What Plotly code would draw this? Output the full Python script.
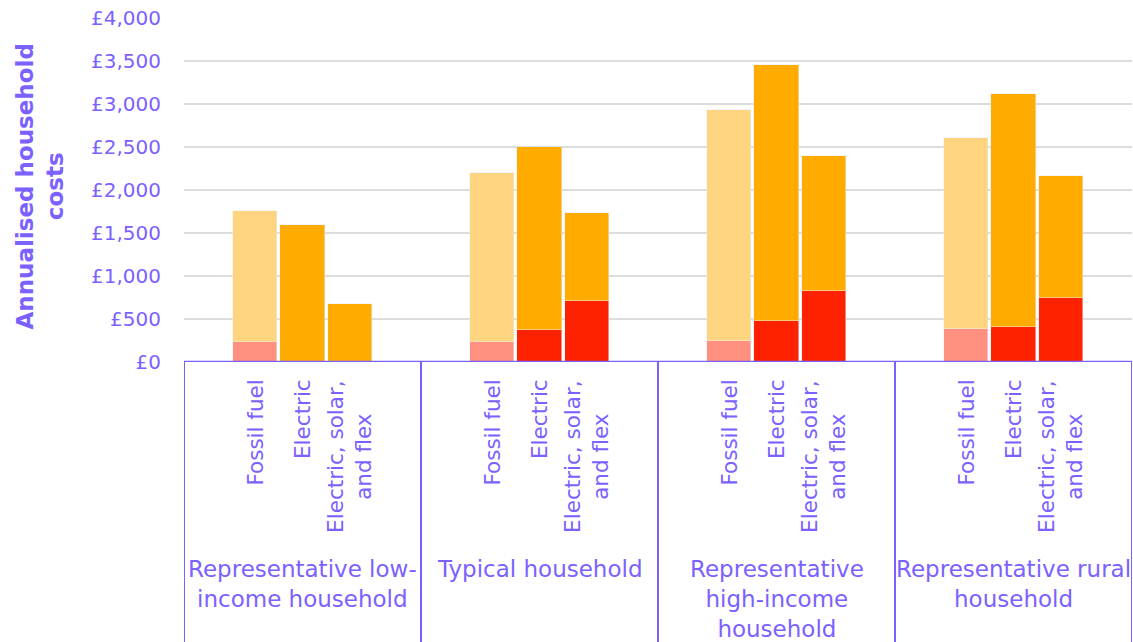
import plotly.graph_objects as go

# Household types and the heating options compared for each
groups = [
    "Representative low-<br>income household",
    "Typical household",
    "Representative<br>high-income<br>household",
    "Representative rural<br>household",
]
options = ["Fossil fuel", "Electric", "Electric, solar,<br>and flex"]

# Annualised costs (£): lower segment and upper segment of each stacked bar,
# listed per household as [fossil fuel, electric, electric+solar+flex]
lower = [
    [235, 0, 0],
    [230, 370, 715],
    [240, 475, 825],
    [380, 410, 750],
]
upper = [
    [1520, 1590, 670],
    [1970, 2130, 1020],
    [2690, 2980, 1570],
    [2225, 2710, 1415],
]

y_ticks = [0, 500, 1000, 1500, 2000, 2500, 3000, 3500, 4000]
y_tick_text = ["£0", "£500", "£1,000", "£1,500", "£2,000", "£2,500", "£3,000", "£3,500", "£4,000"]

PURPLE = "#7B61FF"
FONT = "DejaVu Sans"
SLOTS = 5  # one empty slot either side of the three bars in each household block

fossil_x, fossil_lo, fossil_hi = [], [], []
elec_x, elec_lo, elec_hi = [], [], []
for g in range(len(groups)):
    for j in range(len(options)):
        x = g * SLOTS + 1 + j
        if j == 0:
            fossil_x.append(x)
            fossil_lo.append(lower[g][j])
            fossil_hi.append(upper[g][j])
        else:
            elec_x.append(x)
            elec_lo.append(lower[g][j])
            elec_hi.append(upper[g][j])

fig = go.Figure()
bar_w = 0.93
fig.add_trace(go.Bar(x=fossil_x, y=fossil_lo, marker_color="#FF8F7E", width=bar_w, showlegend=False))
fig.add_trace(go.Bar(x=elec_x, y=elec_lo, marker_color="#FF2200", width=bar_w, showlegend=False))
fig.add_trace(go.Bar(x=fossil_x, y=fossil_hi, marker_color="#FFD47F", width=bar_w, showlegend=False))
fig.add_trace(go.Bar(x=elec_x, y=elec_hi, marker_color="#FFAB00", width=bar_w, showlegend=False))

n_slots = len(groups) * SLOTS
annotations = []
shapes = []

# Rotated option labels under each bar
for g in range(len(groups)):
    for j, name in enumerate(options):
        annotations.append(dict(
            x=g * SLOTS + 1 + j, y=-0.045, xref="x", yref="paper",
            text=name, textangle=-90, showarrow=False,
            xanchor="center", yanchor="top", align="center",
            font=dict(family=FONT, size=21.5, color=PURPLE),
        ))
    # Household label centred in its block
    annotations.append(dict(
        x=g * SLOTS + (SLOTS - 1) / 2, y=-0.558, xref="x", yref="paper",
        text=groups[g], showarrow=False, xanchor="center", yanchor="top",
        align="center", font=dict(family=FONT, size=23, color=PURPLE),
    ))

# Block dividers of the category axis
for k in range(len(groups) + 1):
    xk = k * SLOTS - 0.5
    shapes.append(dict(type="line", xref="x", yref="paper", x0=xk, x1=xk, y0=0, y1=-0.82,
                       line=dict(color=PURPLE, width=2)))
shapes.append(dict(type="line", xref="paper", yref="y", x0=0, x1=1, y0=0, y1=0,
                   line=dict(color=PURPLE, width=2.5)))

# Y-axis title
annotations.append(dict(
    x=-0.152, y=0.51, xref="paper", yref="paper",
    text="<b>Annualised household<br>costs</b>", textangle=-90, showarrow=False,
    xanchor="center", yanchor="middle", align="center",
    font=dict(family=FONT, size=23, color=PURPLE),
))

fig.update_layout(
    width=1133, height=642,
    margin=dict(l=184, r=1, t=18, b=280, pad=0),
    barmode="stack",
    bargap=0,
    plot_bgcolor="white", paper_bgcolor="white",
    xaxis=dict(range=[-0.5, n_slots - 0.5], showticklabels=False, showgrid=False,
               zeroline=False, showline=False, fixedrange=True),
    yaxis=dict(range=[0, 4000], tickvals=y_ticks, ticktext=y_tick_text,
               showgrid=True, gridcolor="#DCDCDC", gridwidth=2, zeroline=False,
               showline=False, ticklabelstandoff=22,
               tickfont=dict(family=FONT, size=20, color=PURPLE)),
    annotations=annotations,
    shapes=shapes,
)

fig.write_html("out.html")
